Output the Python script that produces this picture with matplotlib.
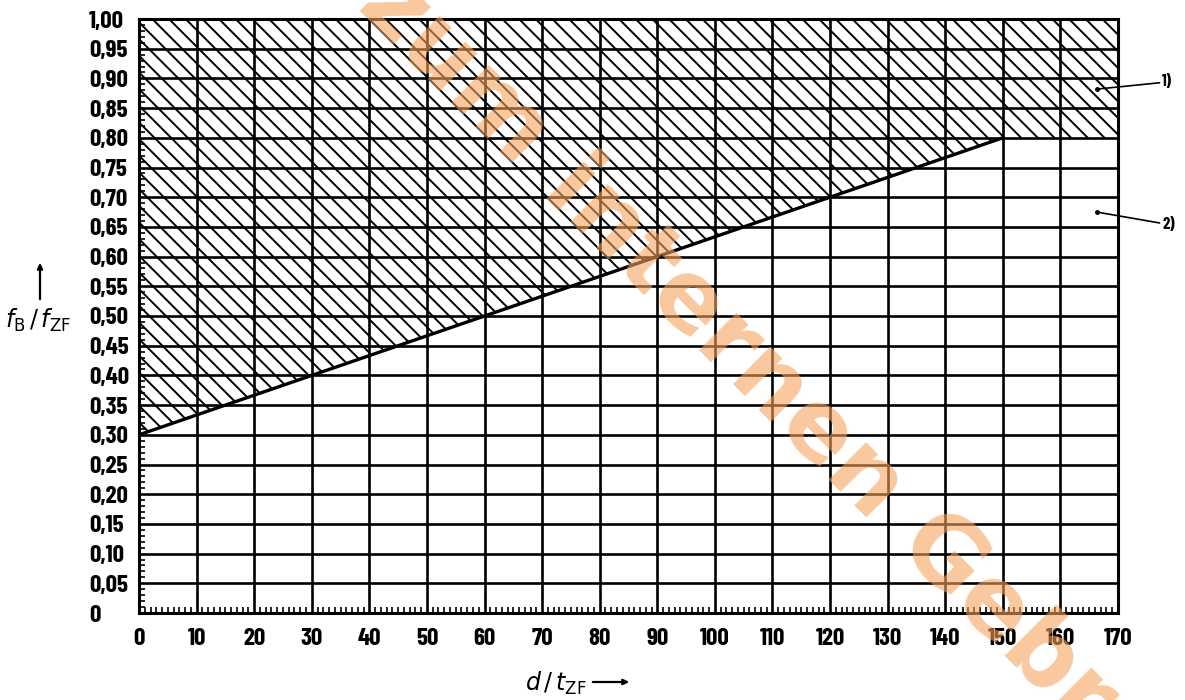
import matplotlib
matplotlib.use("Agg")
import matplotlib.pyplot as plt
import numpy as np
from matplotlib import font_manager as fm

# ---- data ----
x_ticks = list(range(0, 171, 10))
x_tick_labels = [str(v) for v in x_ticks]
y_ticks = [round(0.05 * i, 2) for i in range(21)]
y_tick_labels = ["0"] + [f"{v:.2f}".replace(".", ",") for v in y_ticks[1:]]
boundary_x = [0, 150, 170]
boundary_y = [0.30, 0.80, 0.80]
note_points = [(166.4, 0.882), (166.3, 0.675)]
note_text_pos = [(177.7, 0.894), (177.7, 0.654)]
note_labels = ["1)", "2)"]

plt.rcParams['hatch.linewidth'] = 1.4
plt.rcParams['mathtext.fontset'] = 'dejavusans'

lab_family = ['Barlow Condensed', 'DejaVu Sans']
fp = fm.FontProperties(family=lab_family, weight='bold', size=18)
fp_small = fm.FontProperties(family=lab_family, weight='bold', size=12)

fig = plt.figure(figsize=(11.85, 7.0), dpi=100)
ax = fig.add_axes([139/1185, 1 - 613/700, (1118-139)/1185, (613-19)/700])
ax.set_xlim(0, 170)
ax.set_ylim(0, 1.0)

poly_x = boundary_x + [boundary_x[-1], boundary_x[0]]
poly_y = boundary_y + [1.0, 1.0]
ax.fill(poly_x, poly_y, facecolor='none', edgecolor='black', hatch='\\\\', linewidth=0, zorder=1)
ax.plot(boundary_x[:2], boundary_y[:2], color='black', lw=2.4, zorder=3, solid_capstyle='butt')

ax.set_xticks(x_ticks)
ax.set_yticks(y_ticks)
ax.grid(True, color='black', lw=1.9, zorder=2)
ax.set_xticklabels(x_tick_labels, fontproperties=fp)
ax.set_yticklabels(y_tick_labels, fontproperties=fp, ha='left')
ax.set_xticks(np.arange(0, 171, 1), minor=True)
ax.set_yticks(np.arange(0, 1.001, 0.01), minor=True)
ax.tick_params(axis='x', which='major', direction='in', length=0, pad=11)
ax.tick_params(axis='y', which='major', direction='in', length=0, pad=36)
ax.tick_params(axis='both', which='minor', direction='in', length=4, width=1.2)
for s in ax.spines.values():
    s.set_linewidth(2.2)

for (px, py), (tx, ty), lab in zip(note_points, note_text_pos, note_labels):
    ax.annotate(lab, xy=(px, py), xytext=(tx, ty), textcoords='data', annotation_clip=False,
                fontproperties=fp_small, va='center', ha='left',
                arrowprops=dict(arrowstyle='-', color='black', lw=1.2, shrinkA=0, shrinkB=0))
    ax.plot([px], [py], marker='o', ms=2.5, color='black', clip_on=False, zorder=5)

fig.text(38/1185, 1 - 320/700, r"$f_{\mathrm{B}}\,/\,f_{\mathrm{ZF}}$", fontsize=17, ha='center', va='center')
fig.patches.append(matplotlib.patches.FancyArrowPatch(
    (40/1185, 1 - 302/700), (40/1185, 1 - 260/700), transform=fig.transFigure,
    arrowstyle='-|>', mutation_scale=8, lw=1.6, color='black'))
fig.text(556/1185, 1 - 683/700, r"$d\,/\,t_{\mathrm{ZF}}$", fontsize=17, ha='center', va='center')
fig.patches.append(matplotlib.patches.FancyArrowPatch(
    (590/1185, 1 - 682/700), (632/1185, 1 - 682/700), transform=fig.transFigure,
    arrowstyle='-|>', mutation_scale=8, lw=1.6, color='black'))

fig.text(748/1185, 1 - 362/700, "Nur zum internen Gebrauch", fontsize=70, fontweight='bold',
         family='DejaVu Sans', color='#F7A35C', alpha=0.6, rotation=-45,
         rotation_mode='anchor', ha='center', va='center', zorder=10)

fig.savefig("out.png", dpi=100)
